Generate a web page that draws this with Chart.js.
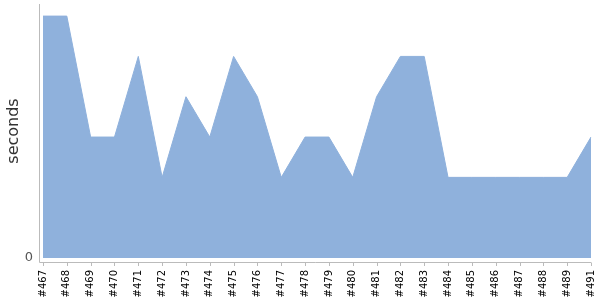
<!DOCTYPE html>
<html>
<head>
<meta charset="utf-8">
<script src="https://cdn.jsdelivr.net/npm/chart.js@4/dist/chart.umd.min.js"></script>
<style>
  html, body { margin: 0; padding: 0; background: #fff; }
</style>
</head>
<body>
<canvas id="buildChart" width="600" height="300"></canvas>
<script>
// build numbers and durations (#490 is absent in the source)
const builds = ['#467', '#468', '#469', '#470', '#471', '#472', '#473', '#474', '#475',
    '#476', '#477', '#478', '#479', '#480', '#481', '#482', '#483', '#484', '#485',
    '#486', '#487', '#488', '#489', '#491'];
const durations = [6, 6, 3, 3, 5, 2, 4, 3, 5, 4, 2, 3, 3, 2, 4, 5, 5, 2, 2, 2, 2, 2, 2, 3];
const yTicks = [0];

// axis lines sit a few px outside the plot area, like the original
const offsetAxes = {
    id: 'offsetAxes',
    afterDraw(chart) {
        const c = chart.ctx, a = chart.chartArea, x = chart.scales.x;
        c.save();
        c.strokeStyle = '#bbbbbb';
        c.lineWidth = 1;
        c.beginPath();
        c.moveTo(a.left - 3.5, a.top);
        c.lineTo(a.left - 3.5, a.bottom + 4.5);
        c.lineTo(a.right, a.bottom + 4.5);
        for (let i = 0; i < builds.length; i++) {
            const px = Math.round(x.getPixelForValue(i)) + 0.5;
            c.moveTo(px, a.bottom + 4.5);
            c.lineTo(px, a.bottom + 8);
        }
        c.stroke();
        c.restore();
    }
};

new Chart(document.getElementById('buildChart'), {
    type: 'line',
    data: {
        labels: builds,
        datasets: [{
            data: durations,
            fill: 'origin',
            backgroundColor: 'rgb(143, 177, 220)',
            borderColor: 'rgb(143, 177, 220)',
            borderWidth: 1,
            pointRadius: 0,
            tension: 0
        }]
    },
    options: {
        responsive: false,
        animation: false,
        layout: { padding: { top: 4, right: 9, left: 0, bottom: 0 } },
        plugins: { legend: { display: false }, tooltip: { enabled: false } },
        scales: {
            x: {
                grid: { display: false, drawTicks: false },
                border: { display: false },
                afterFit(s) {
                    s.height = 42;
                    s.paddingLeft = 0;
                    s.paddingRight = 0;
                },
                ticks: {
                    autoSkip: false,
                    minRotation: 90,
                    maxRotation: 90,
                    padding: 12,
                    color: '#000',
                    font: { family: 'DejaVu Sans', size: 10 }
                }
            },
            y: {
                min: 0,
                max: 6.3,
                grid: { display: false, drawTicks: false },
                border: { display: false },
                afterFit(s) {
                    s.width = 43;
                    s.paddingTop = 0;
                    s.paddingBottom = 0;
                },
                afterBuildTicks(s) { s.ticks = yTicks.map(v => ({ value: v })); },
                ticks: {
                    padding: 10,
                    color: '#555',
                    font: { family: 'DejaVu Sans', size: 13 }
                },
                title: {
                    display: true,
                    text: 'seconds',
                    color: '#333',
                    padding: { top: 4, bottom: 0 },
                    font: { family: 'DejaVu Sans', size: 16 }
                }
            }
        }
    },
    plugins: [offsetAxes]
});
</script>
</body>
</html>
